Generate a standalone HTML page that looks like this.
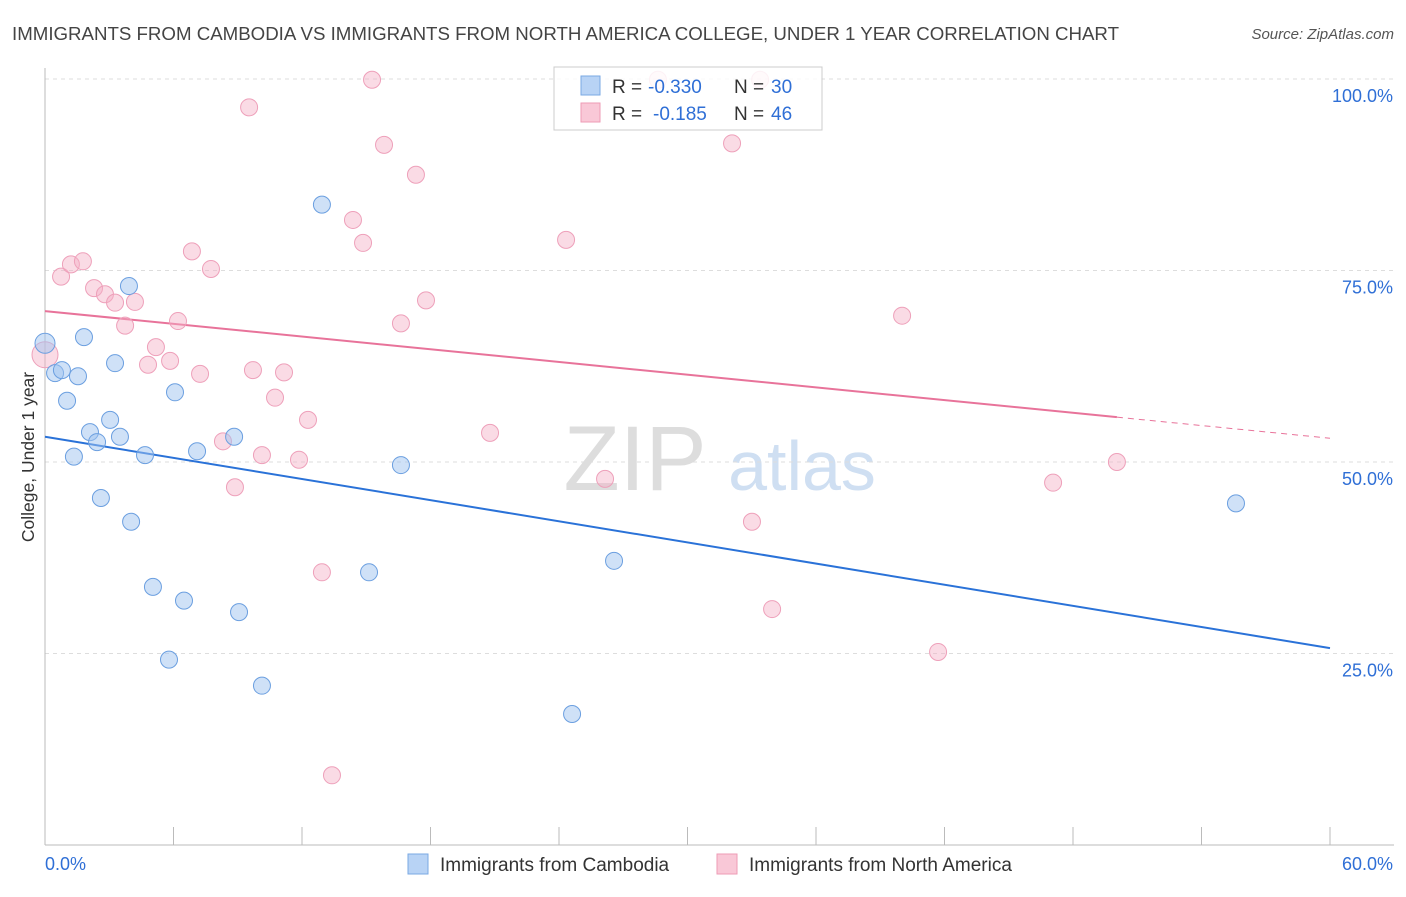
<!DOCTYPE html>
<html><head><meta charset="utf-8"><style>
body{margin:0;background:#fff;font-family:"Liberation Sans",sans-serif;}
svg text{font-family:"Liberation Sans",sans-serif;}
</style></head><body>
<svg id="chart" width="1406" height="892">
<text x="12" y="40" font-size="18.7" fill="#444" textLength="1107">IMMIGRANTS FROM CAMBODIA VS IMMIGRANTS FROM NORTH AMERICA COLLEGE, UNDER 1 YEAR CORRELATION CHART</text>
<text x="1394" y="39" font-size="15" fill="#555" font-style="italic" text-anchor="end">Source: ZipAtlas.com</text>
<g>
<text x="635" y="490" font-size="92" font-family="Liberation Serif" fill="#ddd" text-anchor="middle">ZIP</text>
<text x="802" y="490" font-size="70" fill="#cfdff2" text-anchor="middle">atlas</text>
</g>
<g id="grid"></g>
<g id="axes"></g>
<g id="trends"></g>
<g id="points"></g>
<text transform="translate(34,457) rotate(-90)" font-size="17.5" fill="#333" text-anchor="middle">College, Under 1 year</text>
<g>
<rect x="554" y="67" width="268" height="63" fill="rgba(255,255,255,0.85)" stroke="#ccc"/>
<rect x="581" y="76" width="19" height="19" fill="#b8d3f5" stroke="#7aa8e3"/>
<text x="612" y="93" font-size="19" fill="#333">R =</text>
<text x="648" y="93" font-size="19" fill="#2f6fd6">-0.330</text>
<text x="734" y="93" font-size="19" fill="#333">N =</text>
<text x="771" y="93" font-size="19" fill="#2f6fd6">30</text>
<rect x="581" y="103" width="19" height="19" fill="#f9c8d7" stroke="#ee9bb6"/>
<text x="612" y="120" font-size="19" fill="#333">R =</text>
<text x="653" y="120" font-size="19" fill="#2f6fd6">-0.185</text>
<text x="734" y="120" font-size="19" fill="#333">N =</text>
<text x="771" y="120" font-size="19" fill="#2f6fd6">46</text>
</g>
<g>
<rect x="408" y="854" width="20" height="20" fill="#b8d3f5" stroke="#7aa8e3"/>
<text x="440" y="871" font-size="19" fill="#333">Immigrants from Cambodia</text>
<rect x="717" y="854" width="20" height="20" fill="#f9c8d7" stroke="#ee9bb6"/>
<text x="749" y="871" font-size="19" fill="#333">Immigrants from North America</text>
</g>
</svg>
<script>
const blueX=[0,0.47,0.79,1.54,1.82,1.03,3.92,3.27,3.04,2.10,2.43,3.50,1.35,2.61,4.67,4.02,6.07,7.10,8.83,5.04,6.49,9.06,5.79,10.13,12.93,15.13,16.62,26.57,24.61,55.61];
const blueY=[65.5,61.6,62.0,61.2,66.3,58.0,72.97,62.9,55.5,53.9,52.6,53.3,50.7,45.3,50.9,42.2,59.1,51.4,53.3,33.7,31.9,30.4,24.2,20.8,83.6,35.6,49.6,37.1,17.1,44.6];
const pinkX=[0,0.75,1.21,1.77,2.29,2.80,3.27,4.20,3.74,6.21,5.18,4.81,5.84,7.24,6.86,7.75,9.53,9.71,11.16,10.74,8.31,10.13,8.87,11.86,12.28,14.38,14.85,15.27,15.83,17.32,17.79,16.62,12.93,13.40,20.78,24.33,26.15,28.62,32.08,33.39,33.01,33.95,40.02,41.70,47.07,50.05];
const pinkY=[64,74.2,75.8,76.2,72.7,71.9,70.8,70.9,67.8,68.4,65.0,62.7,63.2,61.5,77.5,75.2,96.3,62.0,61.7,58.4,52.7,50.9,46.7,50.3,55.5,81.6,78.6,99.9,91.4,87.5,71.1,68.1,35.6,9.1,53.8,79.0,47.8,99.9,91.6,99.9,42.2,30.8,69.1,25.2,47.3,50.0];
const blueTrend=[53.3,25.7];
const pinkTrend=[69.7,53.1];
const pinkSolidEndX=50.05;
const yTicks=[25,50,75,100];
const yTickLabels=["25.0%","50.0%","75.0%","100.0%"];
const xTicks=[0,6,12,18,24,30,36,42,48,54,60];

const NS="http://www.w3.org/2000/svg";
const sx=v=>45+v/60*1285;
const sy=v=>845-v/100*766;
function mk(tag,attrs,parent){const e=document.createElementNS(NS,tag);for(const k in attrs)e.setAttribute(k,attrs[k]);parent.appendChild(e);return e;}
const grid=document.getElementById('grid'),axes=document.getElementById('axes'),trends=document.getElementById('trends'),pts=document.getElementById('points');
yTicks.forEach((t,i)=>{
 const l=mk('line',{x1:45,x2:1394,y1:sy(t),y2:sy(t),stroke:'#ddd','stroke-dasharray':'4,4'},grid);
 
 
 const tx=mk('text',{x:1393,y:sy(t)+23,'font-size':18,fill:'#2f6fd6','text-anchor':'end'},axes);
 tx.textContent=yTickLabels[i];
 
 
});
const ya=mk('line',{x1:45,x2:45,y1:68,y2:845,stroke:'#bbb'},axes);


const xa=mk('line',{x1:45,x2:1394,y1:845,y2:845,stroke:'#bbb'},axes);


xTicks.forEach(t=>{
 const l=mk('line',{x1:sx(t),x2:sx(t),y1:827,y2:845,stroke:'#bbb'},axes);
 
 
});
[[0,"0.0%",'start',45],[60,"60.0%",'end',1393]].forEach(a=>{
 const t=mk('text',{x:a[3],y:870,'font-size':18,fill:'#2f6fd6','text-anchor':a[2]},axes);
 t.textContent=a[1];
 
 
});
const bt=mk('line',{x1:sx(0),y1:sy(blueTrend[0]),x2:sx(60),y2:sy(blueTrend[1]),stroke:'#2a72d8','stroke-width':2},trends);


const pAt=x=>pinkTrend[0]+(pinkTrend[1]-pinkTrend[0])*x/60;
const pt=mk('line',{x1:sx(0),y1:sy(pinkTrend[0]),x2:sx(pinkSolidEndX),y2:sy(pAt(pinkSolidEndX)),stroke:'#e8739a','stroke-width':2},trends);


const pd=mk('line',{x1:sx(pinkSolidEndX),y1:sy(pAt(pinkSolidEndX)),x2:sx(60),y2:sy(pinkTrend[1]),stroke:'#e8739a','stroke-width':1,'stroke-dasharray':'6,5'},trends);


pinkX.forEach((x,i)=>{
 const c=mk('circle',{cx:sx(x),cy:sy(pinkY[i]),r:i===0?13:8.5,fill:'rgba(245,175,198,0.45)',stroke:'#eea0ba','stroke-width':1},pts);
 
 
});
blueX.forEach((x,i)=>{
 const c=mk('circle',{cx:sx(x),cy:sy(blueY[i]),r:i===0?10:8.5,fill:'rgba(160,195,240,0.5)',stroke:'#6b9fe0','stroke-width':1},pts);
 
 
});
</script>
</body></html>
